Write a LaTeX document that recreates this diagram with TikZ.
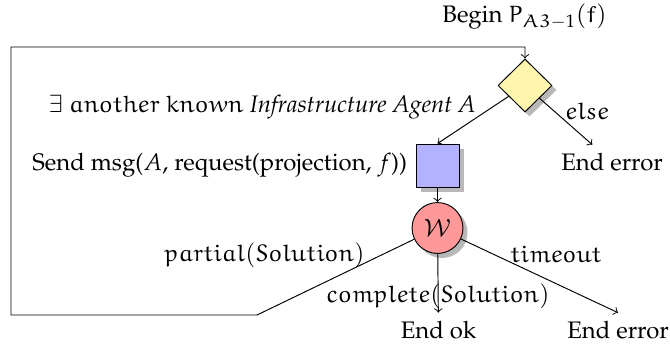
\documentclass[tikz,border=0pt]{standalone}
\usepackage[T1]{fontenc}
\usepackage{mathpazo}
\usetikzlibrary{shapes.geometric,shadows}
\DeclareFontFamily{U}{myeur}{\skewchar\font'177}
\DeclareFontShape{U}{myeur}{m}{n}{<-6>eurm5<6-8>eurm7<8->eurm10}{}
\DeclareMathAlphabet{\mathEu}{U}{myeur}{m}{n}
\newcommand{\eu}[1]{\mathEu{#1}}
\definecolor{dfill}{RGB}{255,245,172}
\definecolor{afill}{RGB}{178,178,255}
\definecolor{wfill}{RGB}{255,152,152}
\tikzset{
  shad/.style={drop shadow={shadow xshift=1.9pt,shadow yshift=-1.9pt,fill=black!28,opacity=1}},
  decision/.style={diamond,draw,fill=dfill,inner sep=0pt,minimum width=22.6pt,minimum height=22.2pt,shad},
  action/.style={rectangle,draw,fill=afill,minimum size=18pt,inner sep=0pt,shad},
  waitnode/.style={circle,draw,fill=wfill,minimum size=21.3pt,inner sep=0pt,shad},
  txt/.style={inner sep=3.33pt},
  lbl/.style={inner sep=0pt},
}
\begin{document}
\begin{tikzpicture}[x=0.4185pt,y=-0.4185pt,>=to,line width=0.4pt]
\useasboundingbox (0,0) rectangle (670,347);
\node[txt] (begin) at (524.5,17) {Begin $\eu{P}_{\eu{A3}-1}(\eu{f})$};
\node[decision] (D) at (525,85.5) {};
\node[action] (S) at (437.5,165.5) {};
\node[txt,anchor=east] (sendlbl) at (S.west) {Send msg($A$, request(projection, $f$))};
\node[waitnode] (W) at (437.5,228) {$\mathcal{W}$};
\node[txt] (E1) at (612,162) {End error};
\node[txt] (Eok) at (438.5,330) {End ok};
\node[txt] (E2) at (618,330) {End error};
\coordinate (loopstart) at (257,315);
\coordinate (c1) at (11,315);
\coordinate (c2) at (11,47);
\coordinate (c3) at (525,47);
\node[lbl,anchor=base east] (lexists) at (476,112) {$\exists\ \eu{another}\ \eu{known}$ \textit{Infrastructure Agent A}};
\node[lbl,anchor=base west] (lelse) at (565,119) {$\eu{else}$};
\node[lbl,anchor=base west] (ltimeout) at (510,262) {$\eu{timeout}$};
\node[lbl,anchor=base east] (lpartial) at (365,261) {$\eu{partial}(\eu{Solution})$};
\draw[->] (W) -- (loopstart) -- (c1) -- (c2) -- (c3) -- (D);
\draw[->] (D) -- (S.north);
\draw[->] (D) -- (E1);
\draw[->] (S) -- (W);
\draw[->] (W) -- (Eok) node[lbl,pos=0.72] (lcomplete) {$\eu{complete}(\eu{Solution})$};
\draw[->] (W) -- (E2.north);
\end{tikzpicture}
\end{document}
